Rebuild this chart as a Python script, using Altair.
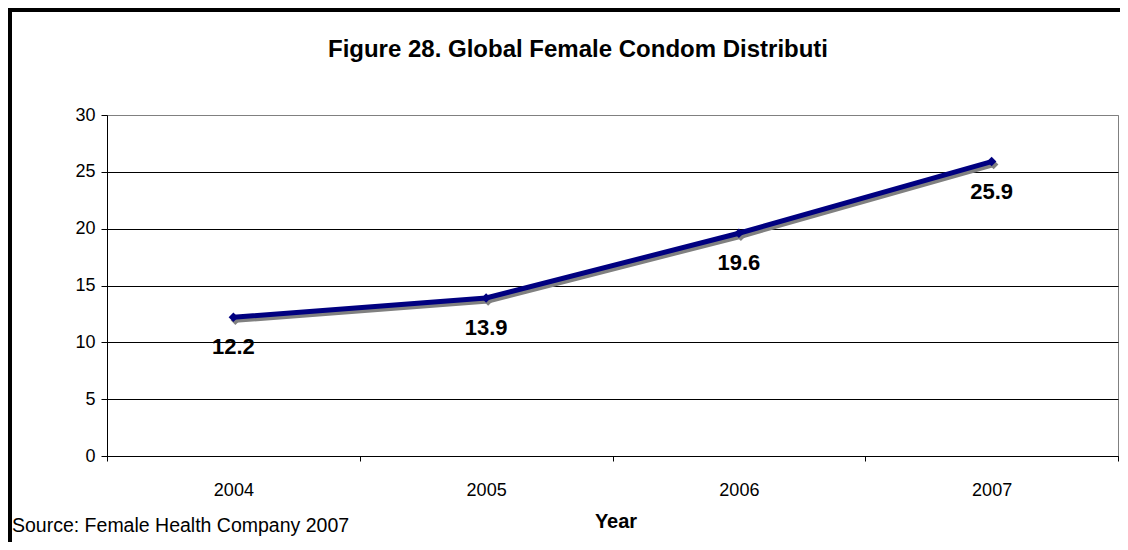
import altair as alt
import pandas as pd

# ---- data ----
years = ["2004", "2005", "2006", "2007"]
values = [12.2, 13.9, 19.6, 25.9]
y_ticks = [0, 5, 10, 15, 20, 25, 30]
title_text = ["Figure 28. Global Female Condom Distributi"]
x_title = "Year"
source_text = ["Source: Female Health Company 2007"]

df = pd.DataFrame({"Year": years, "Value": values})
df_title = pd.DataFrame({"t": title_text})
df_source = pd.DataFrame({"t": source_text})

FONT = "Liberation Sans"
NAVY = "#000080"
SHADOW = "#808080"

W, H = 1011, 341

x_enc = alt.X(
    "Year:N",
    sort=years,
    bandPosition=0.5,
    scale=alt.Scale(type="band", paddingInner=0, paddingOuter=0),
    axis=alt.Axis(
        title=x_title,
        labelAngle=0,
        tickBand="extent",
        domainColor="black",
        tickColor="black",
        tickSize=5,
        labelFontSize=18,
        labelColor="black",
        labelFont=FONT,
        labelPadding=20,
        titleFont=FONT,
        titleFontSize=20,
        titleFontWeight="bold",
        titleColor="black",
        titleX=W / 2 + 3,
        titleY=65,
        titleBaseline="middle",
        grid=False,
    ),
)

y_enc = alt.Y(
    "Value:Q",
    scale=alt.Scale(domain=[0, 30], nice=False, zero=True),
    axis=alt.Axis(
        title=None,
        values=y_ticks,
        labelFontSize=18,
        labelFont=FONT,
        labelColor="black",
        labelPadding=6,
        tickSize=6,
        tickColor="black",
        domainColor="black",
        grid=True,
        gridColor={"condition": {"test": "datum.value == 30", "value": "#808080"}, "value": "black"},
        gridWidth=1,
    ),
)

base = alt.Chart(df).encode(x=x_enc, y=y_enc)

shadow_line = base.mark_line(color=SHADOW, strokeWidth=5, xOffset=2, yOffset=3)
shadow_pts = base.mark_point(shape="diamond", filled=True, size=90, color=SHADOW, opacity=1, xOffset=2, yOffset=3)
line = base.mark_line(color=NAVY, strokeWidth=5)
pts = base.mark_point(shape="diamond", filled=True, size=90, color=NAVY, opacity=1)
labels = base.mark_text(
    dy=30, fontSize=22, fontWeight="bold", font=FONT, color="black", baseline="middle"
).encode(text=alt.Text("Value:Q", format=".1f"))

title = alt.Chart(df_title).mark_text(
    fontSize=24, fontWeight="bold", font=FONT, color="black", align="center",
    baseline="middle",
).encode(x=alt.value(471), y=alt.value(-65), text="t:N")

source = alt.Chart(df_source).mark_text(
    fontSize=19.5, font=FONT, color="black", align="left", baseline="middle",
).encode(x=alt.value(-95), y=alt.value(411), text="t:N")

border = alt.Chart(df_title).mark_rect(
    fill="transparent", stroke="black", strokeWidth=4
).encode(x=alt.value(-97), y=alt.value(-105), x2=alt.value(W + 300), y2=alt.value(H + 300))

chart = alt.layer(
    border, shadow_line, shadow_pts, line, pts, labels, title, source
).properties(
    width=W,
    height=H,
    padding={"left": 99, "top": 107, "right": 2, "bottom": 86},
    autosize=alt.AutoSizeParams(type="none"),
    background="white",
).configure_view(
    stroke="#808080", strokeWidth=1
)

chart.save("out.html", embed_options={"renderer": "svg", "actions": False})
